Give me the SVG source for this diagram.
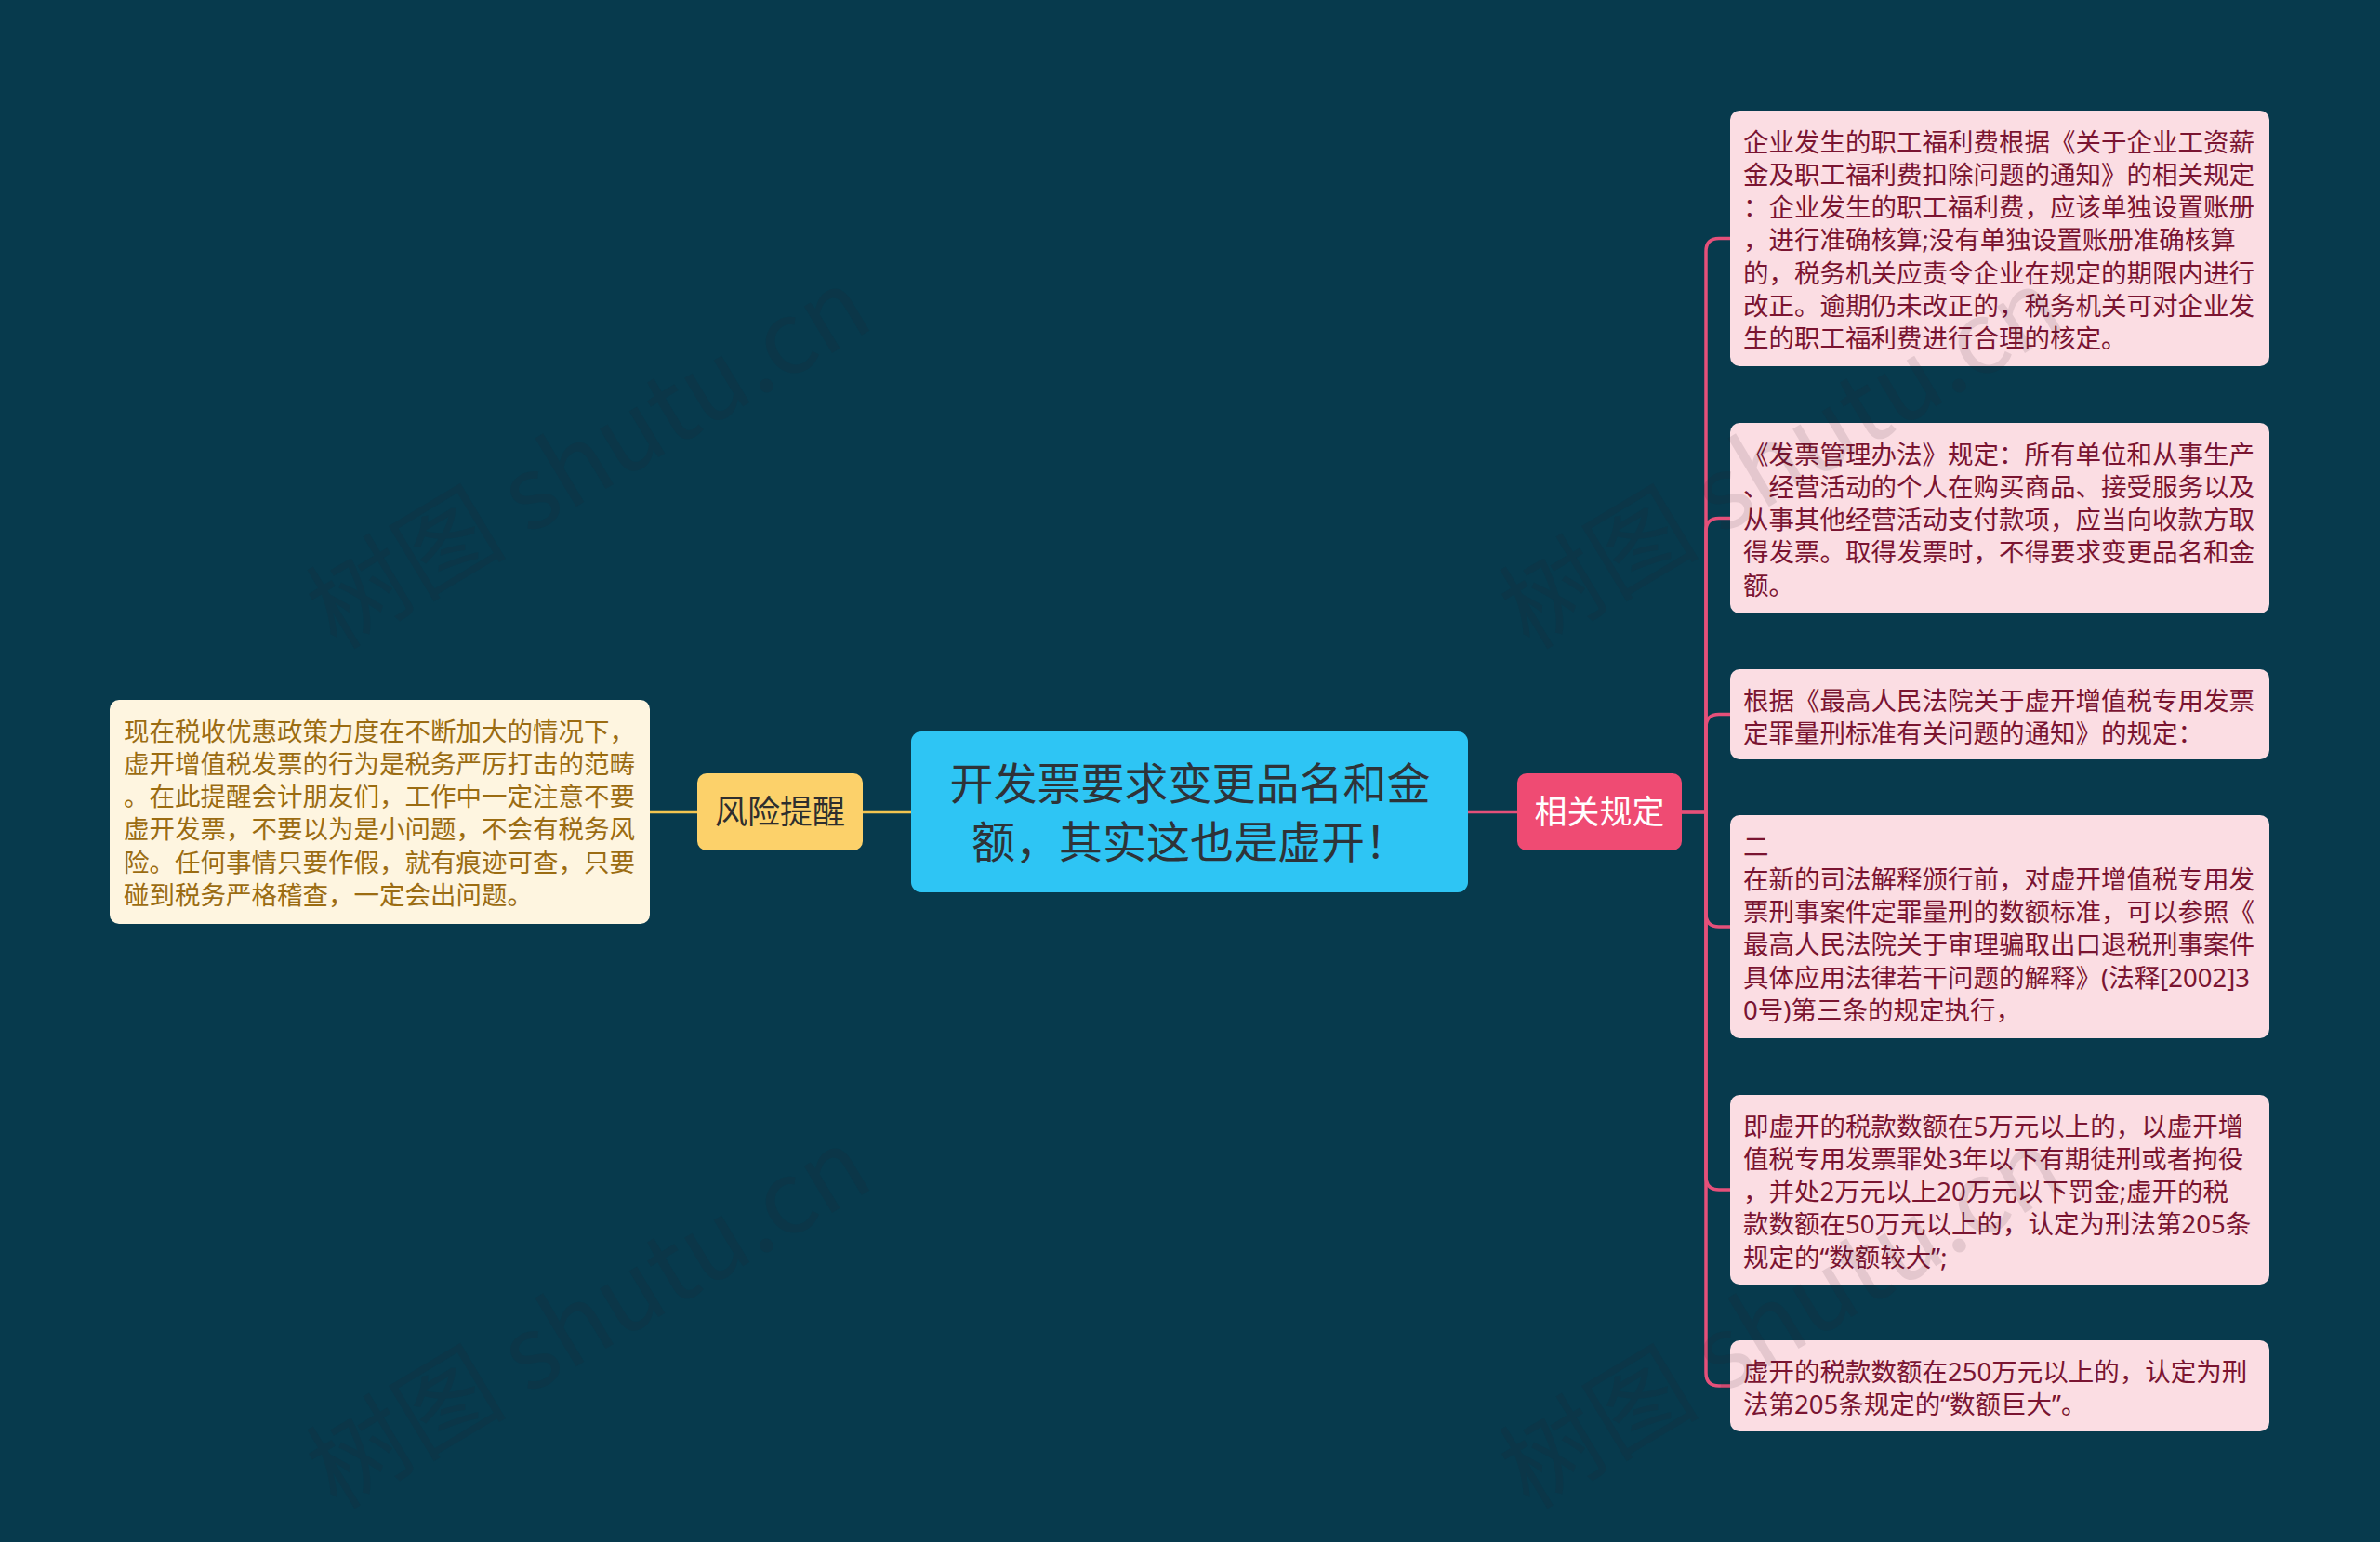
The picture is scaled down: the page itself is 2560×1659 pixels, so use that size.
<svg xmlns="http://www.w3.org/2000/svg" width="2560" height="1659" viewBox="0 0 2560 1659">
<style>
text{font-family:"Noto Sans CJK SC","Noto Sans",sans-serif;}
.leafR{fill:#FBDDE3;}
.leafL{fill:#FEF5E0;}
.tR{font-family:"Noto Sans","Noto Sans CJK SC",sans-serif;font-size:27.5px;fill:#7A1431;}
.tL{font-family:"Noto Sans","Noto Sans CJK SC",sans-serif;font-size:27.5px;fill:#9B6C12;}
.pink{fill:none;stroke:#E5507A;stroke-width:3.5;}
.yel{fill:none;stroke:#F3C550;stroke-width:3.5;}
.wm{font-size:108px;fill:#2A1E28;fill-opacity:0.11;}
</style>
<rect x="0" y="0" width="2560" height="1659" fill="#073A4D"/>
<g id="connectors">
<path class="yel" d="M699 873.5 H750 M928 873.5 H980"/>
<path class="pink" d="M1579 873.5 H1632"/>
<path class="pink" d="M1809 873.5 H1835 V270.5 Q1835 256.5 1849 256.5 H1861"/>
<path class="pink" d="M1809 873.5 H1835 V571.5 Q1835 557.5 1849 557.5 H1861"/>
<path class="pink" d="M1809 873.5 H1835 V782.5 Q1835 768.5 1849 768.5 H1861"/>
<path class="pink" d="M1809 873.5 H1835 V983 Q1835 997 1849 997 H1861"/>
<path class="pink" d="M1809 873.5 H1835 V1266 Q1835 1280 1849 1280 H1861"/>
<path class="pink" d="M1809 873.5 H1835 V1477 Q1835 1491 1849 1491 H1861"/>
</g>
<g id="root">
<rect x="980" y="787" width="599" height="173" rx="11" fill="#2EC5F4"/>
<text x="1280" y="860" font-size="47" fill="#2E3338" text-anchor="middle">开发票要求变更品名和金</text>
<text x="1280" y="923" font-size="47" fill="#2E3338" text-anchor="middle">额，其实这也是虚开！</text>
</g>
<g id="node-risk">
<rect x="750" y="832" width="178" height="83" rx="10" fill="#FCD16A"/>
<text x="839" y="886" font-size="35" fill="#2E2E2E" text-anchor="middle">风险提醒</text>
</g>
<g id="node-rules">
<rect x="1632" y="832" width="177" height="83" rx="10" fill="#EF4B73"/>
<text x="1720.5" y="886" font-size="35" fill="#FFFFFF" text-anchor="middle">相关规定</text>
</g>
<g id="leaf-risk">
<rect class="leafL" x="118" y="753" width="581" height="241" rx="10"/>
<text class="tL" x="133" y="796.5">
<tspan x="133" dy="0">现在税收优惠政策力度在不断加大的情况下，</tspan>
<tspan x="133" dy="35.3">虚开增值税发票的行为是税务严厉打击的范畴</tspan>
<tspan x="133" dy="35.3">。在此提醒会计朋友们，工作中一定注意不要</tspan>
<tspan x="133" dy="35.3">虚开发票，不要以为是小问题，不会有税务风</tspan>
<tspan x="133" dy="35.3">险。任何事情只要作假，就有痕迹可查，只要</tspan>
<tspan x="133" dy="35.3">碰到税务严格稽查，一定会出问题。</tspan>
</text>
</g>
<g id="leaf-1">
<rect class="leafR" x="1861" y="119" width="580" height="275" rx="10"/>
<text class="tR" x="1875" y="162.5">
<tspan x="1875" dy="0">企业发生的职工福利费根据《关于企业工资薪</tspan>
<tspan x="1875" dy="35.3">金及职工福利费扣除问题的通知》的相关规定</tspan>
<tspan x="1875" dy="35.3">：企业发生的职工福利费，应该单独设置账册</tspan>
<tspan x="1875" dy="35.3">，进行准确核算;没有单独设置账册准确核算</tspan>
<tspan x="1875" dy="35.3">的，税务机关应责令企业在规定的期限内进行</tspan>
<tspan x="1875" dy="35.3">改正。逾期仍未改正的，税务机关可对企业发</tspan>
<tspan x="1875" dy="35.3">生的职工福利费进行合理的核定。</tspan>
</text>
</g>
<g id="leaf-2">
<rect class="leafR" x="1861" y="455" width="580" height="205" rx="10"/>
<text class="tR" x="1875" y="498.5">
<tspan x="1875" dy="0">《发票管理办法》规定：所有单位和从事生产</tspan>
<tspan x="1875" dy="35.3">、经营活动的个人在购买商品、接受服务以及</tspan>
<tspan x="1875" dy="35.3">从事其他经营活动支付款项，应当向收款方取</tspan>
<tspan x="1875" dy="35.3">得发票。取得发票时，不得要求变更品名和金</tspan>
<tspan x="1875" dy="35.3">额。</tspan>
</text>
</g>
<g id="leaf-3">
<rect class="leafR" x="1861" y="720" width="580" height="97" rx="10"/>
<text class="tR" x="1875" y="763.5">
<tspan x="1875" dy="0">根据《最高人民法院关于虚开增值税专用发票</tspan>
<tspan x="1875" dy="35.3">定罪量刑标准有关问题的通知》的规定：</tspan>
</text>
</g>
<g id="leaf-4">
<rect class="leafR" x="1861" y="877" width="580" height="240" rx="10"/>
<text class="tR" x="1875" y="920.5">
<tspan x="1875" dy="0">二</tspan>
<tspan x="1875" dy="35.3">在新的司法解释颁行前，对虚开增值税专用发</tspan>
<tspan x="1875" dy="35.3">票刑事案件定罪量刑的数额标准，可以参照《</tspan>
<tspan x="1875" dy="35.3">最高人民法院关于审理骗取出口退税刑事案件</tspan>
<tspan x="1875" dy="35.3">具体应用法律若干问题的解释》(法释[2002]3</tspan>
<tspan x="1875" dy="35.3">0号)第三条的规定执行，</tspan>
</text>
</g>
<g id="leaf-5">
<rect class="leafR" x="1861" y="1178" width="580" height="204" rx="10"/>
<text class="tR" x="1875" y="1221.5">
<tspan x="1875" dy="0">即虚开的税款数额在5万元以上的，以虚开增</tspan>
<tspan x="1875" dy="35.3">值税专用发票罪处3年以下有期徒刑或者拘役</tspan>
<tspan x="1875" dy="35.3">，并处2万元以上20万元以下罚金;虚开的税</tspan>
<tspan x="1875" dy="35.3">款数额在50万元以上的，认定为刑法第205条</tspan>
<tspan x="1875" dy="35.3">规定的“数额较大”;</tspan>
</text>
</g>
<g id="leaf-6">
<rect class="leafR" x="1861" y="1442" width="580" height="98" rx="10"/>
<text class="tR" x="1875" y="1485.5">
<tspan x="1875" dy="0">虚开的税款数额在250万元以上的，认定为刑</tspan>
<tspan x="1875" dy="35.3">法第205条规定的“数额巨大”。</tspan>
</text>
</g>
<g id="watermarks">
<text class="wm" transform="translate(362 700) rotate(-31)">树图 shutu.cn</text>
<text class="wm" transform="translate(1645 700) rotate(-31)">树图 shutu.cn</text>
<text class="wm" transform="translate(362 1625) rotate(-31)">树图 shutu.cn</text>
<text class="wm" transform="translate(1645 1625) rotate(-31)">树图 shutu.cn</text>
</g>
</svg>
